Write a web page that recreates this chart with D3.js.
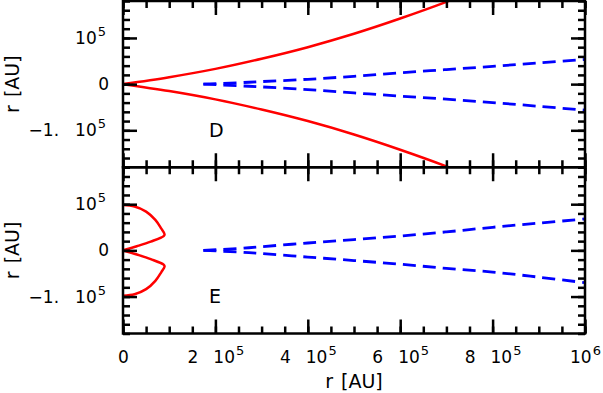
<!DOCTYPE html>
<html>
<head>
<meta charset="utf-8">
<script src="https://cdn.jsdelivr.net/npm/d3@7"></script>
<style>
  body { margin: 0; background: #fff; }
  text { font-family: "DejaVu Sans", "Liberation Sans", sans-serif; fill: #000; }
</style>
</head>
<body>
<svg id="chart" width="603" height="393"></svg>
<script>
// tick values / labels ([mantissa, base, exponent])
var xTickValues = [0, 2e5, 4e5, 6e5, 8e5, 1e6];
var xTickLabels = [["", "0", ""], ["2", "10", "5"], ["4", "10", "5"], ["6", "10", "5"], ["8", "10", "5"], ["", "10", "6"]];
var yTickValues = [-1e5, 0, 1e5];
var yTickLabels = [["\u22121.", "10", "5"], ["", "0", ""], ["", "10", "5"]];
var panelNames = ["D", "E"];

// panel D: red envelope (solid)
var dRedUpR = [0, 1e5, 2e5, 3e5, 4e5, 5e5, 6e5, 7e5, 7.6e5];
var dRedUpZ = [0, 0.15e5, 0.33e5, 0.55e5, 0.80e5, 1.09e5, 1.42e5, 1.78e5, 2.02e5];
var dRedLoR = [0, 1e5, 2e5, 3e5, 4e5, 5e5, 6e5, 7e5, 7.6e5];
var dRedLoZ = [0, -0.15e5, -0.33e5, -0.55e5, -0.80e5, -1.09e5, -1.42e5, -1.78e5, -2.02e5];

// panel D: blue dashed
var dBlueUpR = [1.74e5, 2.5e5, 3e5, 4e5, 5e5, 6e5, 7e5, 8e5, 9e5, 1e6];
var dBlueUpZ = [0, 0.03e5, 0.055e5, 0.105e5, 0.17e5, 0.245e5, 0.315e5, 0.385e5, 0.46e5, 0.535e5];
var dBlueLoR = [1.74e5, 2.5e5, 3e5, 4e5, 5e5, 6e5, 7e5, 8e5, 9e5, 1e6];
var dBlueLoZ = [0, -0.035e5, -0.06e5, -0.12e5, -0.19e5, -0.26e5, -0.325e5, -0.40e5, -0.48e5, -0.565e5];

// panel E: red lobes (solid)
var eRedUpR = [0, 0.25e5, 0.5e5, 0.7e5, 0.83e5, 0.9e5, 0.88e5, 0.6e5, 0.3e5, 0];
var eRedUpZ = [0.98e5, 0.95e5, 0.84e5, 0.66e5, 0.47e5, 0.35e5, 0.31e5, 0.19e5, 0.09e5, 0];
var eRedLoR = [0, 0.3e5, 0.6e5, 0.88e5, 0.9e5, 0.83e5, 0.7e5, 0.5e5, 0.25e5, 0];
var eRedLoZ = [0, -0.09e5, -0.19e5, -0.31e5, -0.35e5, -0.47e5, -0.66e5, -0.84e5, -0.95e5, -0.98e5];

// panel E: blue dashed
var eBlueUpR = [1.74e5, 2.5e5, 3e5, 4e5, 5e5, 6e5, 7e5, 8e5, 9e5, 1e6];
var eBlueUpZ = [0, 0.04e5, 0.08e5, 0.16e5, 0.235e5, 0.31e5, 0.40e5, 0.50e5, 0.59e5, 0.68e5];
var eBlueLoR = [1.74e5, 2.5e5, 3e5, 4e5, 5e5, 6e5, 7e5, 8e5, 9e5, 1e6];
var eBlueLoZ = [0, -0.035e5, -0.07e5, -0.145e5, -0.22e5, -0.30e5, -0.39e5, -0.47e5, -0.58e5, -0.70e5];

var svg = d3.select('#chart');
var plotLeft = 123, plotRight = 585, plotTop = 1, plotBottom = 333.5;
var panelH = (plotBottom - plotTop) / 2;

var x = d3.scaleLinear().domain([0, 1e6]).range([plotLeft, plotRight]);
var xMinor = d3.range(0, 1e6 + 1, 5e4);
var yMinor = d3.range(-1.8e5, 1.8e5 + 1, 2e4);

function zip(rs, zs) {
  return rs.map(function(r, i) { return [r, zs[i]]; });
}

// IDL style labels: "2 10^5"
function setLabels(g, labels, gap, supShift) {
  g.selectAll('.tick text').each(function(d, i) {
    var lab = labels[i];
    var t = d3.select(this).text('');
    if (lab[2] && supShift) t.attr('x', +t.attr('x') + supShift);
    if (lab[0]) t.append('tspan').text(lab[0]);
    t.append('tspan').attr('dx', lab[0] ? gap : 0).text(lab[1]);
    if (lab[2]) {
      t.append('tspan').attr('font-size', 13).attr('dx', 1).attr('dy', -8).text(lab[2]);
    }
  });
}

function styleAxis(g) {
  g.select('.domain').remove();
  g.selectAll('.tick line').attr('stroke', '#000').attr('stroke-width', 2.5);
  g.selectAll('.tick text').attr('font-size', 17).attr('fill', '#000');
}

function axisTitle(sel) {
  sel.attr('font-size', 19).attr('text-anchor', 'middle');
  sel.append('tspan').text('r');
  sel.append('tspan').attr('dx', 8).text('[AU]');
}

function drawPanel(idx, curves) {
  var y0 = plotTop + idx * panelH;
  var y = d3.scaleLinear().domain([-1.8e5, 1.8e5]).range([y0 + panelH, y0]);
  var g = svg.append('g');

  var clipId = 'clip' + idx;
  svg.append('clipPath').attr('id', clipId)
    .append('rect').attr('x', plotLeft).attr('y', y0).attr('width', plotRight - plotLeft).attr('height', panelH);

  var line = d3.line()
    .x(function(d) { return x(d[0]); })
    .y(function(d) { return y(d[1]); })
    .curve(d3.curveCatmullRom.alpha(0.5));

  var plot = g.append('g').attr('clip-path', 'url(#' + clipId + ')');
  curves.forEach(function(c) {
    plot.append('path')
      .attr('d', line(zip(c.r, c.z)))
      .attr('fill', 'none')
      .attr('stroke', c.color)
      .attr('stroke-width', c.dash ? 2.8 : 2.5)
      .attr('stroke-dasharray', c.dash || null);
  });

  // major + minor ticks on all four sides
  var sides = [
    [d3.axisLeft, plotLeft, 'y'],
    [d3.axisRight, plotRight, 'y'],
    [d3.axisTop, y0, 'x'],
    [d3.axisBottom, y0 + panelH, 'x']
  ];
  sides.forEach(function(a) {
    var scale = a[2] === 'x' ? x : y;
    var minorVals = a[2] === 'x' ? xMinor : yMinor;
    var majorVals = a[2] === 'x' ? xTickValues : yTickValues;
    var tr = a[2] === 'x' ? 'translate(0,' + a[1] + ')' : 'translate(' + a[1] + ',0)';

    g.append('g').attr('transform', tr)
      .call(a[0](scale).tickValues(minorVals).tickSize(-7).tickFormat(''))
      .call(styleAxis);

    var maj = g.append('g').attr('transform', tr);
    var axis = a[0](scale).tickValues(majorVals).tickSize(-14);
    var labelled = (a[0] === d3.axisLeft) || (a[0] === d3.axisBottom && idx === 1);
    if (!labelled) axis.tickFormat('');
    if (a[0] === d3.axisLeft) axis.tickPadding(14);
    if (a[0] === d3.axisBottom) axis.tickPadding(17);
    maj.call(axis).call(styleAxis);
    if (labelled) {
      if (a[0] === d3.axisLeft) setLabels(maj, yTickLabels, 16, -3);
      else setLabels(maj, xTickLabels, 15, 0);
    }
  });

  g.append('rect')
    .attr('x', plotLeft).attr('y', y0).attr('width', plotRight - plotLeft).attr('height', panelH)
    .attr('fill', 'none').attr('stroke', '#000').attr('stroke-width', 2.5);

  g.append('text')
    .attr('x', 209).attr('y', y0 + 136)
    .attr('font-size', 19)
    .text(panelNames[idx]);

  g.append('text')
    .attr('transform', 'translate(19,' + y(0) + ') rotate(-90)')
    .call(axisTitle);
}

drawPanel(0, [
  { r: dRedUpR, z: dRedUpZ, color: '#ff0000' },
  { r: dRedLoR, z: dRedLoZ, color: '#ff0000' },
  { r: dBlueUpR, z: dBlueUpZ, color: '#0000ff', dash: '13,7' },
  { r: dBlueLoR, z: dBlueLoZ, color: '#0000ff', dash: '13,7' }
]);
drawPanel(1, [
  { r: eRedUpR, z: eRedUpZ, color: '#ff0000' },
  { r: eRedLoR, z: eRedLoZ, color: '#ff0000' },
  { r: eBlueUpR, z: eBlueUpZ, color: '#0000ff', dash: '13,7' },
  { r: eBlueLoR, z: eBlueLoZ, color: '#0000ff', dash: '13,7' }
]);

svg.append('text')
  .attr('x', (plotLeft + plotRight) / 2).attr('y', 388)
  .call(axisTitle);
</script>
</body>
</html>
